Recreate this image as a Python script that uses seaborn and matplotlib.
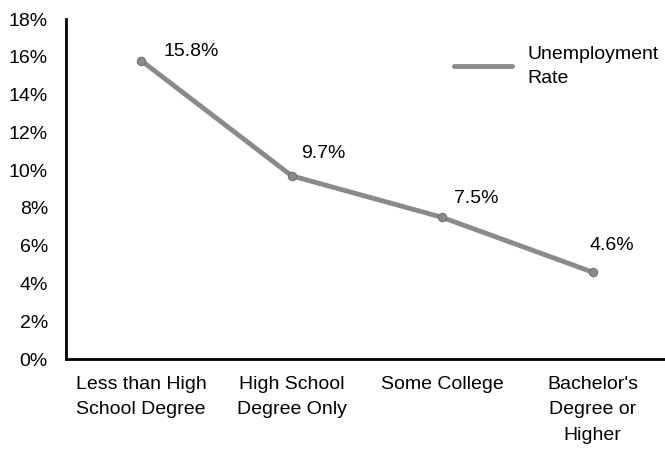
import matplotlib
matplotlib.use("Agg")
import matplotlib.pyplot as plt
from matplotlib import font_manager
from matplotlib.lines import Line2D
import seaborn as sns
import pandas as pd
import numpy as np

categories = ["Less than High\nSchool Degree", "High School\nDegree Only", "Some College", "Bachelor's\nDegree or\nHigher"]
rates = [15.8, 9.7, 7.5, 4.6]
value_labels = ["15.8%", "9.7%", "7.5%", "4.6%"]
y_ticks = [0, 2, 4, 6, 8, 10, 12, 14, 16, 18]
y_tick_labels = ["0%", "2%", "4%", "6%", "8%", "10%", "12%", "14%", "16%", "18%"]
series_name = "Unemployment\nRate"

sns.set_style("white")
names = {f.name for f in font_manager.fontManager.ttflist}
fam = "Liberation Sans Narrow" if "Liberation Sans Narrow" in names else "Liberation Sans"
plt.rcParams['font.family'] = [fam, 'DejaVu Sans']
plt.rcParams['text.color'] = 'black'
plt.rcParams['xtick.color'] = 'black'
plt.rcParams['ytick.color'] = 'black'

df = pd.DataFrame({"pos": np.arange(len(categories)), "rate": rates})
line_color = "#8a8a8a"

fig = plt.figure(figsize=(6.65, 4.53), dpi=100)
ax = fig.add_axes([0.0992, 0.2075, 0.905, 0.7505])
sns.lineplot(data=df, x="pos", y="rate", ax=ax, color=line_color, linewidth=3.5,
             marker="o", markersize=6, markeredgecolor="#6e6e6e", legend=False)

ax.set_xlim(-0.5, 3.5)
ax.set_ylim(0, 18)
ax.set_yticks(y_ticks)
ax.set_yticklabels(y_tick_labels, fontsize=14)
ax.set_xticks(np.arange(-0.5, 3.6, 1.0))
ax.set_xticklabels([])
ax.set_xticks(df["pos"], minor=True)
ax.set_xticklabels(categories, minor=True, fontsize=14, va="top", linespacing=1.65)
ax.tick_params(axis="x", which="major", length=8, width=1.5, direction="out")
ax.tick_params(axis="x", which="minor", length=0, pad=12)
ax.tick_params(axis="y", length=5, width=1.5, direction="out", pad=8)
ax.set_xlabel("")
ax.set_ylabel("")

for s in ["top", "right"]:
    ax.spines[s].set_visible(False)
for s in ["left", "bottom"]:
    ax.spines[s].set_linewidth(2)
    ax.spines[s].set_color("black")

offsets = [(0.33, 0.5), (0.21, 1.2), (0.23, 1.0), (0.13, 1.4)]
for i, (lab, r) in enumerate(zip(value_labels, rates)):
    dx, dy = offsets[i]
    ax.text(i + dx, r + dy, lab, fontsize=14, ha="center", va="center")

handle = Line2D([], [], color=line_color, linewidth=3.5)
leg = ax.legend([handle], [series_name], loc="upper left", bbox_to_anchor=(0.645, 0.92),
                frameon=False, fontsize=14, handlelength=3.0, handletextpad=0.75,
                borderaxespad=0, borderpad=0)
for t in leg.get_texts():
    t.set_linespacing(1.55)

fig.savefig("out.png", dpi=100)
